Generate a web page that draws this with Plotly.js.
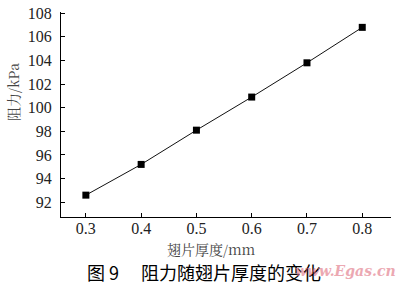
<!DOCTYPE html>
<html><head><meta charset="utf-8">
<script src="https://cdn.plot.ly/plotly-3.0.1.min.js"></script>
<style>html,body{margin:0;padding:0;background:#fff;}#chart{width:400px;height:287px;}</style>
</head><body><div id="chart"></div>
<script>
var thickness = [0.3, 0.4, 0.5, 0.6, 0.7, 0.8];
var resistance = [92.6, 95.2, 98.1, 100.9, 103.8, 106.8];
var xTicks = [0.3, 0.4, 0.5, 0.6, 0.7, 0.8];
var yTicks = [92, 94, 96, 98, 100, 102, 104, 106, 108];
var xTitle = '翅片厚度/mm';
var yTitle = '阻力/kPa';
var caption = '图 9　 阻力随翅片厚度的变化';
var watermark = 'www.Egas.cn';

var W = 400, H = 287;
var L = 61, R = 9, T = 12, B = 70;
var pw = W - L - R, ph = H - T - B;
function px(x){ return (x - L) / pw; }
function py(y){ return (H - B - y) / ph; }

var tickFont = {family: 'Liberation Serif, Times New Roman, serif', size: 16, color: '#222'};

var trace = {
  x: thickness, y: resistance, type: 'scatter', mode: 'lines+markers',
  line: {color: '#111', width: 1},
  marker: {symbol: 'square', size: 7, color: '#000'},
  showlegend: false, hoverinfo: 'skip'
};

var layout = {
  width: W, height: H,
  margin: {l: L, r: R, t: T, b: B, pad: 0},
  paper_bgcolor: '#fff', plot_bgcolor: '#fff',
  xaxis: {
    range: [0.255, 0.852], tickvals: xTicks, ticktext: xTicks.map(function(v){return v.toFixed(1);}),
    ticks: 'inside', ticklen: 4, tickcolor: '#000', tickwidth: 1,
    showline: true, linecolor: '#000', linewidth: 1, showgrid: false, zeroline: false,
    tickfont: tickFont, ticklabelstandoff: -3
  },
  yaxis: {
    range: [90.75, 108.1], tickvals: yTicks, ticktext: yTicks.map(String),
    ticks: 'inside', ticklen: 4, tickcolor: '#000', tickwidth: 1,
    showline: true, linecolor: '#000', linewidth: 1, showgrid: false, zeroline: false,
    tickfont: tickFont, ticklabelstandoff: 5
  },
  annotations: [
    {text: xTitle, xref: 'paper', yref: 'paper', x: px(211), y: py(249), xanchor: 'center', yanchor: 'middle',
     showarrow: false, font: {family: 'Noto Serif CJK SC, Liberation Serif, Noto Sans CJK SC, serif', size: 14, color: '#444'}},
    {text: yTitle, xref: 'paper', yref: 'paper', x: px(13), y: py(92), xanchor: 'center', yanchor: 'middle', textangle: -90,
     showarrow: false, font: {family: 'Noto Serif CJK SC, Liberation Serif, Noto Sans CJK SC, serif', size: 14, color: '#444'}},
    {text: caption, xref: 'paper', yref: 'paper', x: px(204), y: py(272), xanchor: 'center', yanchor: 'middle',
     showarrow: false, font: {family: 'Noto Sans CJK SC, sans-serif', size: 18, color: '#000', weight: 'normal'}},
    {text: '<i>' + watermark + '</i>', xref: 'paper', yref: 'paper', x: px(345), y: py(271), xanchor: 'center', yanchor: 'middle',
     showarrow: false, opacity: 0.6, font: {family: 'DejaVu Serif, serif', size: 14, color: '#e07080', weight: 'bold'}}
  ]
};

Plotly.newPlot('chart', [trace], layout, {staticPlot: true, displayModeBar: false});
</script></body></html>
